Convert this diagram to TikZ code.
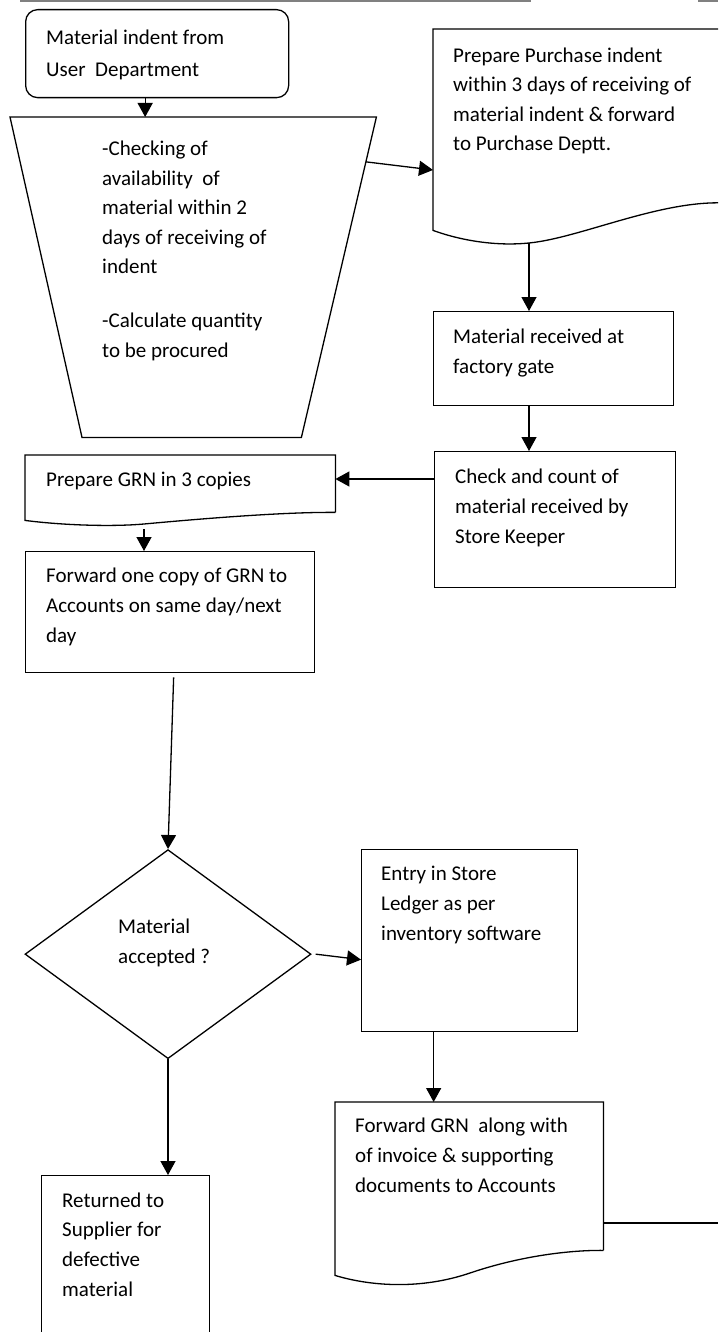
\documentclass[tikz,border=0pt]{standalone}
\usepackage{fontspec}
\setmainfont{Carlito}
\usetikzlibrary{arrows.meta,positioning,calc,shapes.geometric}
\tikzset{
  flowBox/.style={draw=black, line width=1.3pt, inner sep=0pt},
  flowShell/.style={inner sep=0pt},
  flowEdge/.style={draw=black, line width=1.3pt},
  flowArrow/.style={-{Triangle[length=14pt, width=15pt]}, line width=1.3pt},
  flowLine/.style={line width=1.3pt},
  flowText/.style={font=\fontsize{21}{29.6}\selectfont, align=left, inner sep=0pt, anchor=base west}
}
\begin{document}
\begin{tikzpicture}[x=1pt, y=-1pt]
  \useasboundingbox[fill=white] (0,0) rectangle (718,1332);
  \clip (0,0) rectangle (718,1332);
  % page rule
  \draw[black!50, line width=1.6pt] (20,1) -- (531,1) (698,1) -- (718,1);

  % indent (text nodes sit on the baseline of their last line)
  \node[flowBox, rounded corners=12pt, minimum width=263pt, minimum height=88pt, anchor=north west] (ind) at (25,9) {};
  \node[flowText] (ind-t) at (46,77) {Material indent from\\[3pt]User\ \ Department};

  % checking of availability
  \node[flowShell, minimum width=366pt, minimum height=320pt, anchor=north west] (chk) at (10,117) {};
  \coordinate (chk-se) at ($(chk.south east)+(-75,0)$);
  \coordinate (chk-sw) at ($(chk.south west)+(72,0)$);
  \draw[flowEdge] (chk.north west) -- (chk.north east) -- (chk-se) -- (chk-sw) -- cycle;
  \node[flowText] (chk-t) at (102,357) {-Checking of\\availability\ \ of\\material within 2\\days of receiving of\\indent\\[24pt]-Calculate quantity\\to be procured};

  % purchase indent
  \node[flowShell, minimum width=300pt, minimum height=201pt, anchor=north west] (purch) at (433,29) {};
  \coordinate (purch-out) at (529,243);
  \draw[flowEdge] (purch.north east) -- (purch.north west) -- (purch.south west)
    .. controls (465,242) and (500,246) .. (purch-out)
    .. controls (580,238) and (660,200) .. (725,203);
  \node[flowText] (purch-t) at (453,151) {Prepare Purchase indent\\within 3 days of receiving of\\material indent \& forward\\to Purchase Deptt.};

  % material received
  \node[flowBox, minimum width=240pt, minimum height=94pt, anchor=north west] (recv) at (433,311) {};
  \node[flowText] (recv-t) at (453,373) {Material received at\\factory gate};

  % check and count
  \node[flowBox, minimum width=241pt, minimum height=136pt, anchor=north west] (cnt) at (434,451) {};
  \node[flowText] (cnt-t) at (455,543) {Check and count of\\material received by\\Store Keeper};

  % GRN
  \node[flowShell, minimum width=310pt, minimum height=65pt, anchor=north west] (grn) at (25,455) {};
  \coordinate (grn-out) at (144,524);
  \draw[flowEdge] ($(grn.south east)+(0,-8)$) -- (grn.north east) -- (grn.north west) -- (grn.south west)
    .. controls (60,525) and (110,527) .. (grn-out)
    .. controls (220,517) and (290,512) .. ($(grn.south east)+(0,-8)$);
  \node[flowText] (grn-t) at (46,486) {Prepare GRN in 3 copies};

  % forward one copy
  \node[flowBox, minimum width=289pt, minimum height=121pt, anchor=north west] (fwd) at (25,551) {};
  \node[flowText] (fwd-t) at (46,642) {Forward one copy of GRN to\\Accounts on same day/next\\day};

  % decision
  \node[flowBox, diamond, minimum width=286pt, minimum height=209pt, anchor=north] (dec) at (168,849) {};
  \node[flowText] (dec-t) at (118,963) {Material\\accepted ?};

  % store ledger
  \node[flowBox, minimum width=216pt, minimum height=182pt, anchor=north west] (entry) at (361,849) {};
  \node[flowText] (entry-t) at (381,940) {Entry in Store\\Ledger as per\\inventory software};

  % forward GRN
  \node[flowShell, minimum width=268pt, minimum height=173pt, anchor=north west] (fgrn) at (335,1102) {};
  \draw[flowEdge] ($(fgrn.south east)+(0,-25)$) -- (fgrn.north east) -- (fgrn.north west) -- (fgrn.south west)
    .. controls (370,1286) and (420,1290) .. (470,1273)
    .. controls (520,1256) and (570,1250) .. ($(fgrn.south east)+(0,-25)$);
  \node[flowText] (fgrn-t) at (355,1192) {Forward GRN\ \ along with\\of invoice \& supporting\\documents to Accounts};
  \coordinate (exit) at (718,1223);

  % returned
  \node[flowBox, minimum width=168pt, minimum height=200pt, anchor=north west] (ret) at (41,1175) {};
  \node[flowText] (ret-t) at (62,1296) {Returned to\\Supplier for\\defective\\material};

  % connectors
  \draw[flowArrow] ([xshift=-12pt]ind.south) -- ([xshift=-12pt]ind.south |- chk.north);
  \draw[flowArrow] ($(chk.north east)!0.14!(chk-se)$) -- ($(purch.north west)+(0,141)$);
  \draw[flowArrow] (purch-out) -- (purch-out |- recv.north);
  \draw[flowArrow] (recv.south -| purch-out) -- (cnt.north -| purch-out);
  \draw[flowArrow] ([yshift=-28pt]cnt.north west) -- ([yshift=-28pt]cnt.north west -| grn.east);
  \draw[flowArrow] ([yshift=-5pt]grn-out) -- (grn-out |- fwd.north);
  \draw[flowArrow] ([shift={(3.5pt,-4pt)}]fwd.south) -- (dec.north);
  \draw[flowArrow] ([xshift=4pt]dec.east) -- ([yshift=-19pt]entry.west);
  \draw[flowArrow] ([xshift=-36pt]entry.south) -- ([xshift=-36pt]entry.south |- fgrn.north);
  \draw[flowLine] (exit -| fgrn.east) -- (exit);
  \draw[flowArrow] (dec.south) -- (dec.south |- ret.north);
\end{tikzpicture}
\end{document}
